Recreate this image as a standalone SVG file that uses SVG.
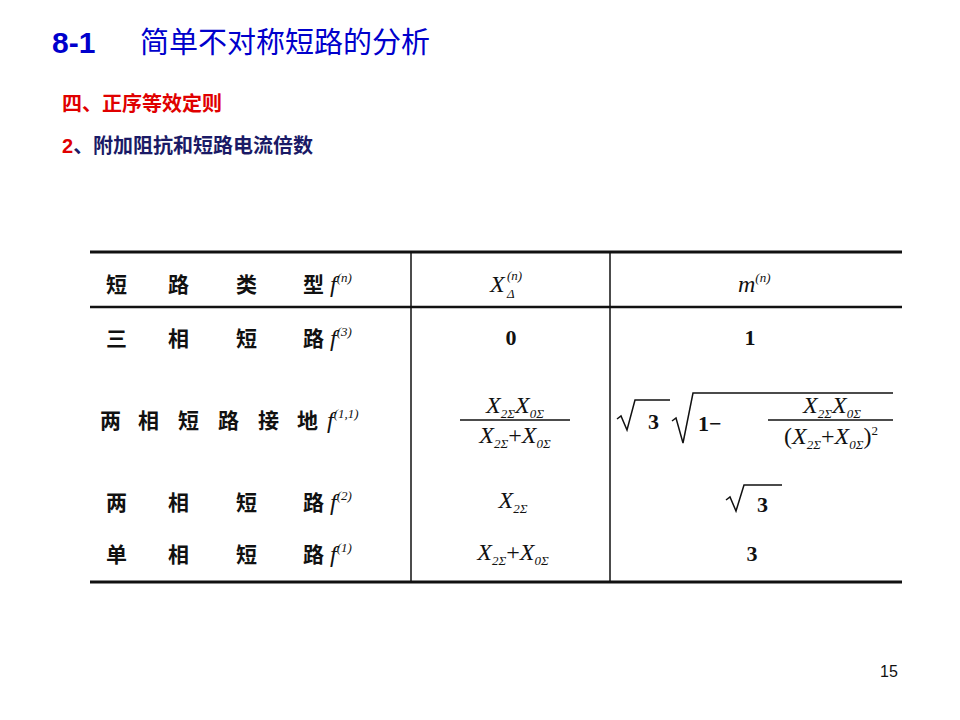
<svg xmlns="http://www.w3.org/2000/svg" width="960" height="720" viewBox="0 0 960 720">
<style>
.t{font-family:"Liberation Serif","Noto Sans CJK SC",serif;font-size:22px;fill:#111;font-weight:bold}
.c{font-family:"Noto Sans CJK SC",sans-serif;font-size:21px;fill:#111;font-weight:bold}
.m{font-family:"Liberation Serif",serif;font-style:italic;font-size:24px;fill:#111}
.s{font-size:13px}
.ln{stroke:#111;fill:none}
</style>
<rect width="960" height="720" fill="#fff"/>
<g id="title">
<text x="52" y="53" font-family="Liberation Sans,sans-serif" font-weight="bold" font-size="30" fill="#0000cc">8-1</text>
<text x="140" y="53" font-family="Noto Sans CJK SC,sans-serif" font-size="29" fill="#0000cc">简单不对称短路的分析</text>
<text x="62" y="111" font-family="Noto Sans CJK SC,sans-serif" font-weight="bold" font-size="20" fill="#e00000">四、正序等效定则</text>
<text x="62" y="153" font-family="Noto Sans CJK SC,sans-serif" font-weight="bold" font-size="20" fill="#1a1a66"><tspan fill="#e00000" font-family="Liberation Sans,sans-serif">2</tspan>、附加阻抗和短路电流倍数</text>
</g>
<g id="grid">
<line class="ln" x1="90" y1="252" x2="902" y2="252" stroke-width="3"/>
<line class="ln" x1="90" y1="307" x2="902" y2="307" stroke-width="2.5"/>
<line class="ln" x1="90" y1="582" x2="902" y2="582" stroke-width="3"/>
<line class="ln" x1="411" y1="252" x2="411" y2="582" stroke-width="1.5"/>
<line class="ln" x1="610" y1="252" x2="610" y2="582" stroke-width="1.5"/>
</g>
<g id="col1">
<text class="c" y="292"><tspan x="106">短</tspan><tspan x="168">路</tspan><tspan x="236">类</tspan><tspan x="303">型</tspan></text>
<text class="m" x="330" y="292">f<tspan class="s" dy="-10">(n)</tspan></text>
<text class="c" y="346"><tspan x="106">三</tspan><tspan x="168">相</tspan><tspan x="236">短</tspan><tspan x="303">路</tspan></text>
<text class="m" x="330" y="346">f<tspan class="s" dy="-10">(3)</tspan></text>
<text class="c" y="428"><tspan x="100">两</tspan><tspan x="138">相</tspan><tspan x="178">短</tspan><tspan x="218">路</tspan><tspan x="258">接</tspan><tspan x="297">地</tspan></text>
<text class="m" x="327" y="428">f<tspan class="s" dy="-10">(1,1)</tspan></text>
<text class="c" y="510"><tspan x="106">两</tspan><tspan x="168">相</tspan><tspan x="236">短</tspan><tspan x="303">路</tspan></text>
<text class="m" x="330" y="510">f<tspan class="s" dy="-10">(2)</tspan></text>
<text class="c" y="562"><tspan x="106">单</tspan><tspan x="168">相</tspan><tspan x="236">短</tspan><tspan x="303">路</tspan></text>
<text class="m" x="330" y="562">f<tspan class="s" dy="-10">(1)</tspan></text>
</g>
<g id="col2">
<text class="m" x="490" y="292">X</text>
<text class="m s" x="507" y="280">(n)</text>
<text class="m s" x="507" y="298">Δ</text>
<text class="t" x="511" y="345" text-anchor="middle">0</text>
<text class="m" x="515" y="413" text-anchor="middle">X<tspan class="s" dy="5">2Σ</tspan><tspan dy="-5">X</tspan><tspan class="s" dy="5">0Σ</tspan></text>
<line class="ln" x1="460" y1="420" x2="570" y2="420" stroke-width="1.5"/>
<text class="m" x="515" y="443" text-anchor="middle">X<tspan class="s" dy="5">2Σ</tspan><tspan dy="-5" font-style="normal">+</tspan>X<tspan class="s" dy="5">0Σ</tspan></text>
<text class="m" x="513" y="508" text-anchor="middle">X<tspan class="s" dy="5">2Σ</tspan></text>
<text class="m" x="513" y="560" text-anchor="middle">X<tspan class="s" dy="5">2Σ</tspan><tspan dy="-5" font-style="normal">+</tspan>X<tspan class="s" dy="5">0Σ</tspan></text>
</g>
<g id="col3">
<text class="m" x="738" y="292">m<tspan class="s" dy="-10">(n)</tspan></text>
<text class="t" x="750" y="345" text-anchor="middle">1</text>
<path class="ln" stroke-width="1.5" d="M617 419 l4 -3 l6 14 l8 -30 h35"/>
<text class="t" x="648" y="429" font-weight="normal" font-size="24">3</text>
<path class="ln" stroke-width="1.5" d="M672 421 l4 -3 l7 25 l10 -50 h200"/>
<text class="t" x="698" y="431" font-weight="normal" font-size="26">1−</text>
<text class="m" x="832" y="413" text-anchor="middle">X<tspan class="s" dy="5">2Σ</tspan><tspan dy="-5">X</tspan><tspan class="s" dy="5">0Σ</tspan></text>
<line class="ln" x1="768" y1="420" x2="893" y2="420" stroke-width="1.5"/>
<text class="m" x="831" y="444" text-anchor="middle"><tspan font-style="normal">(</tspan>X<tspan class="s" dy="5">2Σ</tspan><tspan dy="-5" font-style="normal">+</tspan>X<tspan class="s" dy="5">0Σ</tspan><tspan dy="-5" font-style="normal">)</tspan><tspan class="s" dy="-9" font-style="normal">2</tspan></text>
<path class="ln" stroke-width="1.5" d="M726 500 l4 -3 l6 14 l8 -26 h38"/>
<text class="t" x="757" y="512" font-weight="normal" font-size="24">3</text>
<text class="t" x="752" y="561" text-anchor="middle" font-weight="normal" font-size="24">3</text>
</g>
<text x="880" y="677" font-family="Liberation Sans,sans-serif" font-size="16" fill="#111">15</text>
</svg>
